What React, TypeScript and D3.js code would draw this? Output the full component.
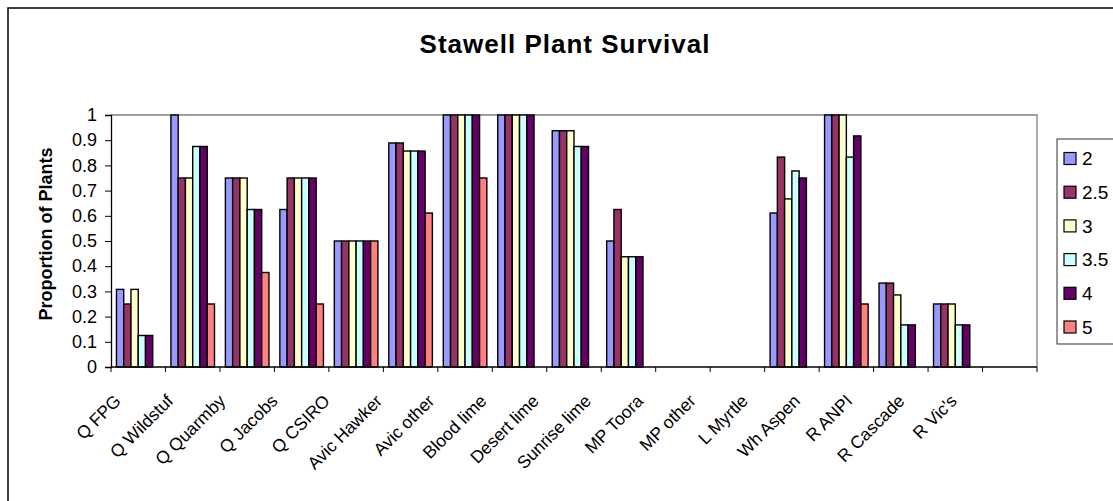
import React, { useEffect, useRef } from "react";
import * as d3 from "d3";

const categories = [
  "Q FPG",
  "Q Wildstuf",
  "Q Quarmby",
  "Q Jacobs",
  "Q CSIRO",
  "Avic Hawker",
  "Avic other",
  "Blood lime",
  "Desert lime",
  "Sunrise lime",
  "MP Toora",
  "MP other",
  "L Myrtle",
  "Wh Aspen",
  "R ANPI",
  "R Cascade",
  "R Vic's",
];

const seriesNames = ["2", "2.5", "3", "3.5", "4", "5"];
const seriesColors = ["#9999FF", "#993366", "#FFFFCC", "#CCFFFF", "#660066", "#FF8080"];

const s2 = [0.308, 1, 0.75, 0.625, 0.5, 0.889, 1, 1, 0.9375, 0.5, 0, 0, 0.611, 1, 0.333, 0.25, 0];
const s25 = [0.25, 0.75, 0.75, 0.75, 0.5, 0.889, 1, 1, 0.9375, 0.625, 0, 0, 0.833, 1, 0.333, 0.25, 0];
const s3 = [0.308, 0.75, 0.75, 0.75, 0.5, 0.857, 1, 1, 0.9375, 0.4375, 0, 0, 0.667, 1, 0.286, 0.25, 0];
const s35 = [0.125, 0.875, 0.625, 0.75, 0.5, 0.857, 1, 1, 0.875, 0.4375, 0, 0, 0.778, 0.833, 0.167, 0.167, 0];
const s4 = [0.125, 0.875, 0.625, 0.75, 0.5, 0.857, 1, 1, 0.875, 0.4375, 0, 0, 0.75, 0.917, 0.167, 0.167, 0];
const s5 = [0, 0.25, 0.375, 0.25, 0.5, 0.611, 0.75, 0, 0, 0, 0, 0, 0, 0.25, 0, 0, 0];

const seriesValues = [s2, s25, s3, s35, s4, s5];
const yTicks = [0, 0.1, 0.2, 0.3, 0.4, 0.5, 0.6, 0.7, 0.8, 0.9, 1];

const FONT = "Arial, 'Liberation Sans', sans-serif";

const App: React.FC = () => {
  const svgRef = useRef<SVGSVGElement | null>(null);

  useEffect(() => {
    if (!svgRef.current) return;
    const svg = d3.select(svgRef.current);
    svg.selectAll("*").remove();

    const W = 1113;
    const H = 501;
    const plot = { left: 111, right: 1037, top: 115, bottom: 367 };

    // outer chart border (runs off the picture at right and bottom)
    svg
      .append("rect")
      .attr("x", 8)
      .attr("y", 8)
      .attr("width", W + 20)
      .attr("height", H + 20)
      .attr("fill", "#fff")
      .attr("stroke", "#000")
      .attr("stroke-width", 1.5);

    svg
      .append("text")
      .attr("x", 565)
      .attr("y", 53)
      .attr("text-anchor", "middle")
      .attr("font-family", FONT)
      .attr("font-weight", "bold")
      .attr("font-size", 26)
      .attr("letter-spacing", 1)
      .text("Stawell Plant Survival");

    const x0 = d3.scaleBand<string>().domain(categories).range([plot.left, plot.right]).padding(0);
    const gap = x0.bandwidth() * 0.2;
    const x1 = d3
      .scaleBand<string>()
      .domain(seriesNames)
      .range([gap / 2, x0.bandwidth() - gap / 2])
      .padding(0);
    const y = d3.scaleLinear().domain([0, 1]).range([plot.bottom, plot.top]);

    // plot area frame (grey top/right)
    svg
      .append("path")
      .attr("d", `M${plot.left},${plot.top}H${plot.right}V${plot.bottom}`)
      .attr("fill", "none")
      .attr("stroke", "#808080")
      .attr("stroke-width", 1.3);

    // bars
    seriesNames.forEach((name, si) => {
      const rows = categories
        .map((c, i) => ({ c, v: seriesValues[si][i] }))
        .filter((d) => d.v > 0);
      svg
        .append("g")
        .selectAll("rect")
        .data(rows)
        .enter()
        .append("rect")
        .attr("x", (d) => (x0(d.c) ?? 0) + (x1(name) ?? 0))
        .attr("y", (d) => y(d.v))
        .attr("width", x1.bandwidth())
        .attr("height", (d) => y(0) - y(d.v))
        .attr("fill", seriesColors[si])
        .attr("stroke", "#000")
        .attr("stroke-width", 1.4);
    });

    // y axis
    const yAxis = svg
      .append("g")
      .attr("transform", `translate(${plot.left},0)`)
      .call(d3.axisLeft(y).tickValues(yTicks).tickSize(6).tickPadding(8).tickFormat(d3.format("")));
    yAxis.select(".domain").attr("stroke", "#000").attr("stroke-width", 1.3);
    yAxis.selectAll("line").attr("stroke", "#000");
    yAxis
      .selectAll("text")
      .attr("font-family", FONT)
      .attr("font-size", 18)
      .attr("fill", "#000");

    // x axis: ticks at category boundaries
    const bounds = categories.map((c) => x0(c) ?? 0).concat([plot.right]);
    svg
      .append("line")
      .attr("x1", plot.left)
      .attr("x2", plot.right)
      .attr("y1", plot.bottom)
      .attr("y2", plot.bottom)
      .attr("stroke", "#000")
      .attr("stroke-width", 1.3);
    svg
      .append("g")
      .selectAll("line")
      .data(bounds)
      .enter()
      .append("line")
      .attr("x1", (d) => d)
      .attr("x2", (d) => d)
      .attr("y1", plot.bottom)
      .attr("y2", plot.bottom + 5)
      .attr("stroke", "#000");

    // rotated category labels, spread slightly tighter than the bands
    const xl = d3
      .scalePoint<string>()
      .domain(categories)
      .range([plot.left + 11, plot.right - 79]);
    svg
      .append("g")
      .selectAll("text")
      .data(categories)
      .enter()
      .append("text")
      .attr("transform", (d) => `translate(${xl(d)},${plot.bottom + 35}) rotate(-45)`)
      .attr("text-anchor", "end")
      .attr("font-family", FONT)
      .attr("font-size", 17.5)
      .text((d) => d);

    // y axis title
    svg
      .append("text")
      .attr("transform", `translate(52,${(plot.top + plot.bottom) / 2 - 7}) rotate(-90)`)
      .attr("text-anchor", "middle")
      .attr("font-family", FONT)
      .attr("font-weight", "bold")
      .attr("font-size", 18)
      .text("Proportion of Plants");

    // legend
    const legend = svg.append("g");
    legend
      .append("rect")
      .attr("x", 1057)
      .attr("y", 139)
      .attr("width", 100)
      .attr("height", 205)
      .attr("fill", "#fff")
      .attr("stroke", "#333")
      .attr("stroke-width", 1);
    const ly = d3.scalePoint<string>().domain(seriesNames).range([158.5, 327]);
    const items = legend
      .selectAll("g.item")
      .data(seriesNames)
      .enter()
      .append("g")
      .attr("class", "item")
      .attr("transform", (d) => `translate(1064,${ly(d)})`);
    items
      .append("rect")
      .attr("x", 0)
      .attr("y", -6)
      .attr("width", 12)
      .attr("height", 12)
      .attr("fill", (_d, i) => seriesColors[i])
      .attr("stroke", "#000")
      .attr("stroke-width", 1.2);
    items
      .append("text")
      .attr("x", 18)
      .attr("y", 0)
      .attr("dy", "0.36em")
      .attr("font-family", FONT)
      .attr("font-size", 19)
      .text((d) => d);
  }, []);

  return (
    <svg
      ref={svgRef}
      width={1113}
      height={501}
      style={{ position: "absolute", left: 0, top: 0, background: "#fff" }}
    />
  );
};

export default App;
